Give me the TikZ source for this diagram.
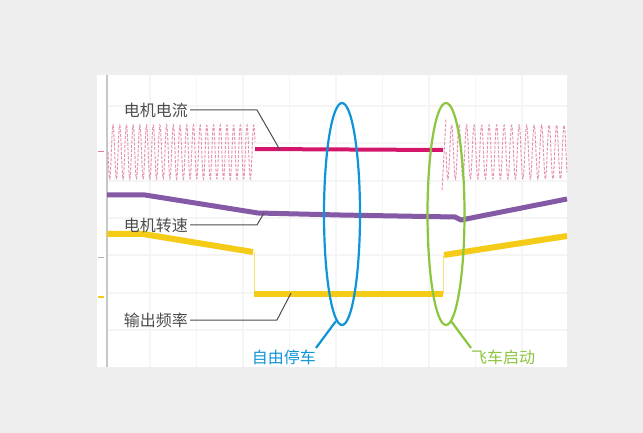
\documentclass[tikz,border=0pt]{standalone}
\usepackage{fontspec}
\newfontfamily\cjk{Noto Sans CJK SC}
\usetikzlibrary{calc,positioning}
\definecolor{pagegray}{HTML}{EEEEEE}
\definecolor{gridgray}{HTML}{F5F5F5}
\definecolor{labelgray}{HTML}{4D4D4D}
\definecolor{currentred}{HTML}{D3166A}
\definecolor{currentpink}{HTML}{E27AA2}
\definecolor{speedpurple}{HTML}{8459A5}
\definecolor{freqyellow}{HTML}{F4CB16}
\definecolor{stopblue}{HTML}{0E95D7}
\definecolor{startgreen}{HTML}{8CC63F}

\begin{document}
\begin{tikzpicture}[%
    x=1bp, y=-1bp,%
    tracelabel/.style={font=\cjk\fontsize{16bp}{18bp}\selectfont, text=labelgray, inner sep=2bp},%
    leader/.style={draw=labelgray, line width=1bp},%
    wave/.style={draw=currentpink, line width=1bp, dash pattern=on 3bp off 1.5bp, opacity=0.8},%
    loopmark/.style={line width=2.2bp},%
  ]
  \def\amp{27}%
  \def\wavemid{152}%

  % Background
  \fill[pagegray] (0,0) rectangle (643,433);%
  \fill[white] (97,75) rectangle (567,367);%
  \foreach \gx in {150,196.5,...,530} {%
    \draw[gridgray, line width=1.5bp] (\gx,75) -- (\gx,367);%
  }%
  \foreach \gy in {106,143,181,218,255,293,330} {%
    \draw[gridgray, line width=1.5bp] (107,\gy) -- (567,\gy);%
  }%
  \draw[black!22, line width=1.2bp] (107,75) -- (107,367);%
  \draw[currentpink, line width=1bp] (98,152) -- (104,152);%
  \draw[black!30, line width=1bp] (98,258) -- (104,258);%
  \draw[freqyellow, line width=1.5bp] (98,297) -- (104,297);%

  % Coordinates
  \coordinate (curtip) at (280,150);%
  \coordinate (curbend) at (257,110);%
  \coordinate (spdtip) at (264,213);%
  \coordinate (spdbend) at (257,225);%
  \coordinate (frqtip) at (291,293);%
  \coordinate (frqbend) at (277,320);%
  \coordinate (stopfoot) at (336,321);%
  \coordinate (stoptail) at (316,348);%
  \coordinate (startfoot) at (451,321);%
  \coordinate (starttail) at (471,348);%

  % Traces
  \draw[wave] plot[domain=0:147, samples=500] ({108+\x}, {\wavemid+\amp*sin(53.73*\x)});%
  \draw[wave] plot[domain=0:121, samples=400] ({446+\x}, {\wavemid+\amp*sin(48*\x)});%
  \draw[wave] (442,190) -- (446,118);%
  \draw[currentred, line width=4bp] (255,149) -- (443,150);%
  \draw[speedpurple, line width=5bp, line join=round] (107,195) -- (145,195) -- (258,213) -- (340,215) -- (455,217) -- (461,220) -- (567,199);%
  \draw[freqyellow, line width=6bp] (107,234) -- (143,234) -- (253,252);%
  \draw[freqyellow!60, line width=1bp] (254,252) -- (254,294);%
  \draw[freqyellow, line width=6bp] (254,294) -- (443,294);%
  \draw[freqyellow!60, line width=1bp] (443,294) -- (443,256);%
  \draw[freqyellow, line width=6bp] (444,255) -- (567,236);%

  % Nodes
  \node[tracelabel, anchor=east] (curlabel) at (190,110) {电机电流};%
  \node[tracelabel, anchor=east] (spdlabel) at (190,225) {电机转速};%
  \node[tracelabel, anchor=east] (frqlabel) at (190,320) {输出频率};%
  \node[tracelabel, text=stopblue, anchor=east] (stoplabel) at (318,357) {自由停车};%
  \node[tracelabel, text=startgreen, anchor=west] (startlabel) at (469,357) {飞车启动};%

  % Lines
  \draw[leader] (curlabel.east) -- (curbend) -- (curtip);%
  \draw[leader] (spdlabel.east) -- (spdbend) -- (spdtip);%
  \draw[leader] (frqlabel.east) -- (frqbend) -- (frqtip);%
  \draw[loopmark, stopblue] (342,214) ellipse [x radius=18bp, y radius=111bp];%
  \draw[loopmark, stopblue] (stopfoot) -- (stoptail);%
  \draw[loopmark, startgreen] (446,214) ellipse [x radius=18.5bp, y radius=111bp];%
  \draw[loopmark, startgreen] (startfoot) -- (starttail);%
\end{tikzpicture}
\end{document}
